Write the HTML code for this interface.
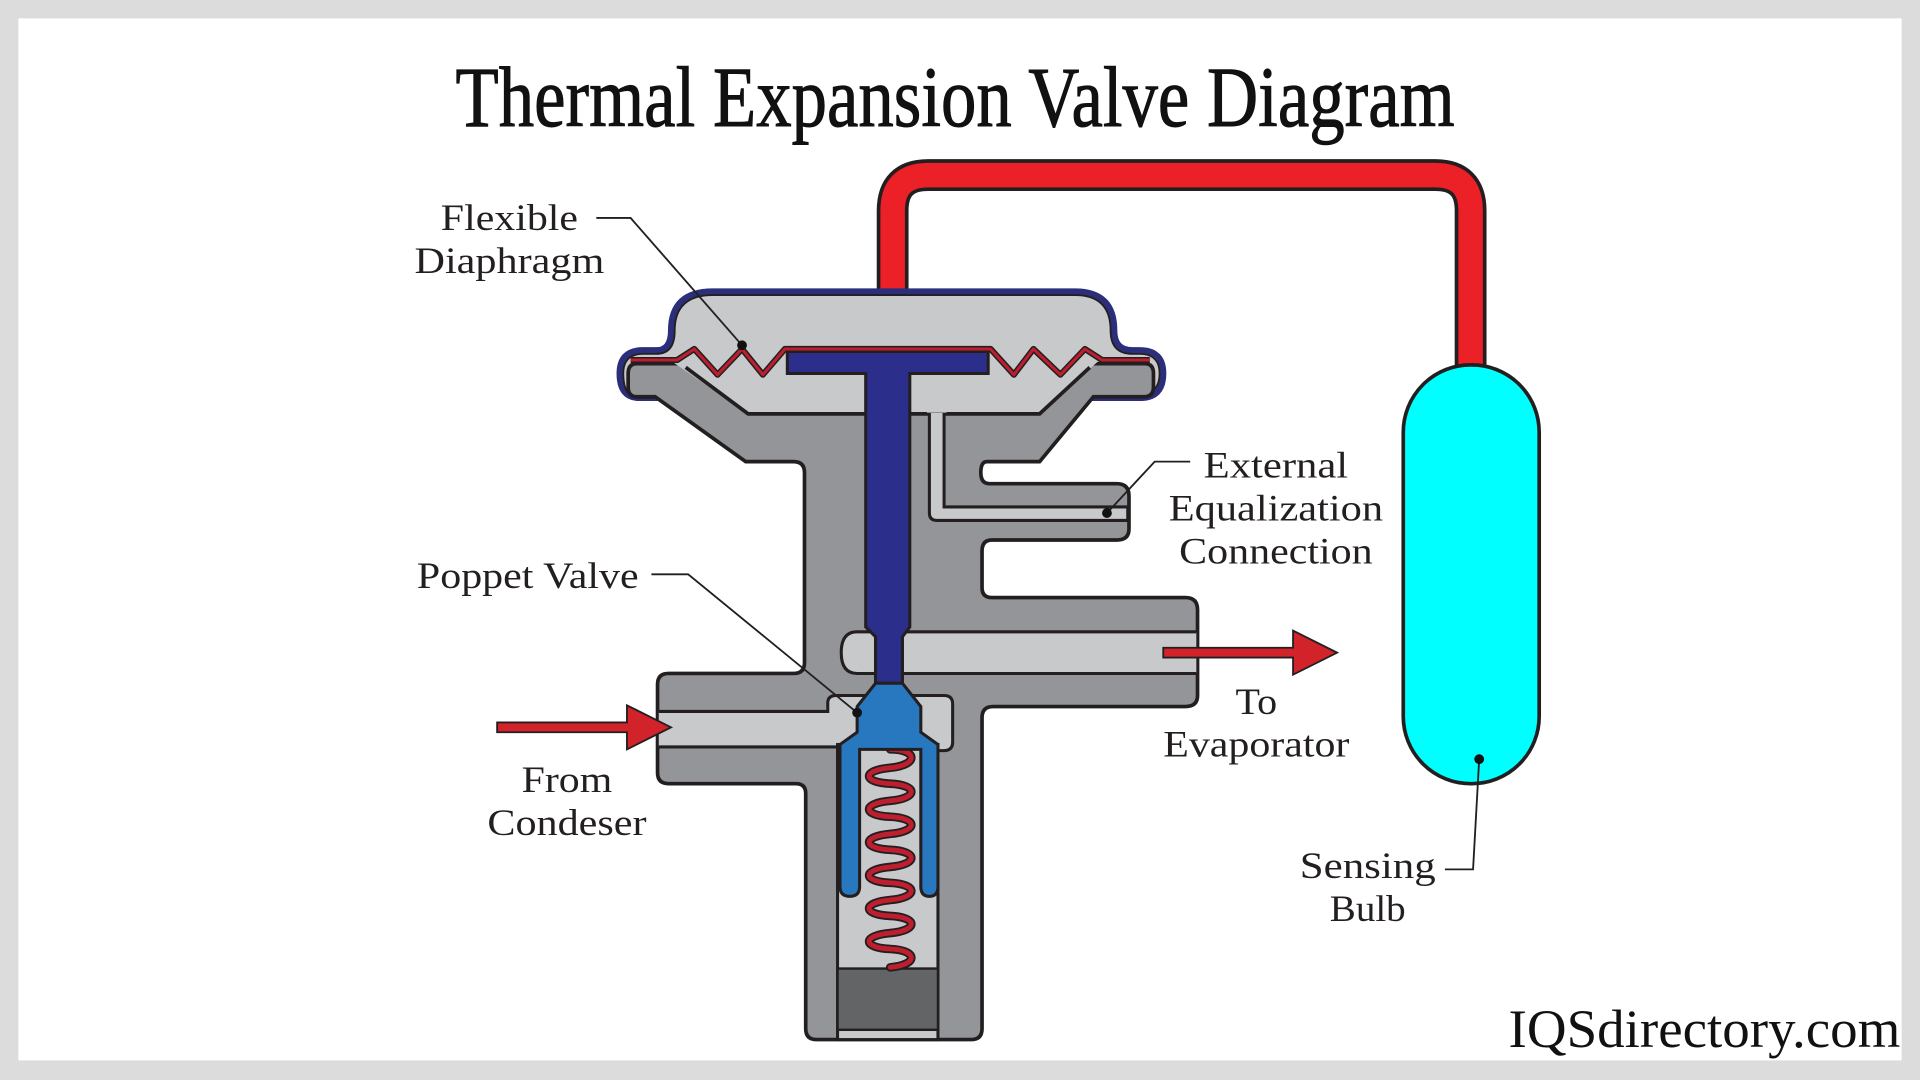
<!DOCTYPE html>
<html><head><meta charset="utf-8"><style>
html,body{margin:0;padding:0;background:#dcdcdc;}
svg{display:block;}
</style></head><body>
<svg width="1920" height="1080" viewBox="0 0 1568 882" xmlns="http://www.w3.org/2000/svg">
<rect x="0" y="0" width="1568" height="882" fill="#dcdcdc"/>
<rect x="15" y="15" width="1538" height="851" fill="#ffffff"/>
<text x="780" y="103" text-anchor="middle" font-family="Liberation Serif, serif" font-size="70" textLength="816" lengthAdjust="spacingAndGlyphs" fill="#111" stroke="#111" stroke-width="0.8">Thermal Expansion Valve Diagram</text>

<!-- red tube -->
<path d="M729,245 L729,172 Q729,143 758,143 L1172,143 Q1201,143 1201,172 L1201,305" fill="none" stroke="#231f20" stroke-width="26"/>
<path d="M729,245 L729,172 Q729,143 758,143 L1172,143 Q1201,143 1201,172 L1201,305" fill="none" stroke="#ec2027" stroke-width="20"/>

<!-- bulb -->
<rect x="1146" y="298" width="111" height="342" rx="55" fill="#00ffff" stroke="#231f20" stroke-width="3"/>

<!-- dome -->
<path d="M522,325 Q506,325 506,305 Q506,286 525,286 L536,286 Q548,286 548,270 Q548,238 582,238 L878,238 Q910,238 910,270 Q910,286 925,286 L931,286 Q950,286 950,305 Q950,325 931,325 Z" fill="#c8c9cb" stroke="#2b2e7a" stroke-width="5"/>
<path d="M522,325 Q509,325 509,305 Q509,289 525,289 L536,289 Q551,289 551,270 Q551,241 582,241 L878,241 Q907,241 907,270 Q907,289 925,289 L931,289 Q947,289 947,305 Q947,322 931,322 Z" fill="none" stroke="#231f20" stroke-width="1.5"/>

<!-- body -->
<path d="M520,297 L935,297 Q942,297 942,305 L942,316 Q942,324 934,324 L893,324 L849,377 L806,377 Q801,377 801,386 Q801,395 808,395 L912,395 Q922,395 922,405 L922,432 Q922,441 912,441 L810,441 Q802,441 802,450 L802,480 Q802,488 810,488 L968,488 Q978,488 978,498 L978,568 Q978,577 968,577 L811,577 Q802,577 802,586 L802,840 Q802,849 793,849 L667,849 Q658,849 658,840 L658,648 Q658,640 650,640 L546,640 Q537,640 537,631 L537,559 Q537,550 546,550 L648,550 Q657,550 657,541 L657,386 Q657,377 648,377 L609,377 L535,324 L520,324 Q513,324 513,316 L513,305 Q513,297 520,297 Z" fill="#939598" stroke="#231f20" stroke-width="3"/>

<!-- chamber -->
<polygon points="547,294 611,338 849,338 898,294" fill="#c8c9cb"/>
<polyline points="560,300 611,338 849,338 890,300" fill="none" stroke="#231f20" stroke-width="3"/>

<!-- equalization channel -->
<path d="M759,336 L759,419 Q759,425 765,425 L921,425 L921,414 L771,414 L771,336 Z" fill="#c8c9cb" stroke="#231f20" stroke-width="2.5"/>
<rect x="757" y="333" width="16" height="4" fill="#c8c9cb"/>

<!-- outlet channel -->
<path d="M977,516 L700,516 Q687,516 687,533 Q687,550 700,550 L977,550" fill="#c8c9cb" stroke="#231f20" stroke-width="2.5"/>
<!-- inlet channel + pocket -->
<path d="M538,581 L676,581 L676,574 Q676,568 683,568 L771,568 Q778,568 778,575 L778,606 Q778,613 771,613 L684,613 L684,610 L538,610" fill="#c8c9cb" stroke="#231f20" stroke-width="2.5"/>
<!-- bore -->
<rect x="684" y="608" width="82" height="241" fill="#c8c9cb" stroke="#231f20" stroke-width="2.5"/>
<rect x="684" y="791" width="82" height="50" fill="#636466" stroke="#231f20" stroke-width="2"/>

<!-- spring -->
<path d="M727,612 C750,612 750,625 727,627 C704,629 704,639 727,640 C750,641 750,652 727,654 C704,656 704,666 727,667 C750,668 750,679 727,681 C704,683 704,693 727,694 C750,695 750,706 727,708 C704,710 704,720 727,721 C750,722 750,733 727,735 C704,737 704,747 727,748 C750,749 750,760 727,762 C704,764 704,774 727,775 C750,776 750,788 727,790" fill="none" stroke="#231f20" stroke-width="7" stroke-linecap="round"/>
<path d="M727,612 C750,612 750,625 727,627 C704,629 704,639 727,640 C750,641 750,652 727,654 C704,656 704,666 727,667 C750,668 750,679 727,681 C704,683 704,693 727,694 C750,695 750,706 727,708 C704,710 704,720 727,721 C750,722 750,733 727,735 C704,737 704,747 727,748 C750,749 750,760 727,762 C704,764 704,774 727,775 C750,776 750,788 727,790" fill="none" stroke="#be1e2d" stroke-width="4" stroke-linecap="round"/>

<!-- stem -->
<path d="M643,287 L807,287 L807,305 L743,305 L743,512 L737,520 L737,558 L715,558 L715,520 L707,512 L707,305 L643,305 Z" fill="#2b2e8a" stroke="#231f20" stroke-width="2.5"/>
<!-- poppet -->
<path d="M715,558 L737,558 L752,577 L752,598 L766,608 L766,724 Q766,732 759,732 Q752,732 752,724 L752,612 L702,612 L702,724 Q702,732 694,732 Q686,732 686,724 L686,608 L700,598 L700,577 Z" fill="#2878c0" stroke="#231f20" stroke-width="2.5"/>

<!-- diaphragm -->
<polyline points="515,294 553,294 567,285 586,306 606,285 623,306 641,285 809,285 828,306 844,285 866,306 886,285 900,294 939,294" fill="none" stroke="#231f20" stroke-width="5" stroke-linejoin="round"/>
<polyline points="515,294 553,294 567,285 586,306 606,285 623,306 641,285 809,285 828,306 844,285 866,306 886,285 900,294 939,294" fill="none" stroke="#be1e2d" stroke-width="2.5" stroke-linejoin="round"/>

<!-- arrows -->
<path d="M406,590 L512,590 L512,576 L548,594 L512,612 L512,598 L406,598 Z" fill="#d2232a" stroke="#231f20" stroke-width="1.5"/>
<path d="M950,529 L1056,529 L1056,515 L1092,533 L1056,551 L1056,537 L950,537 Z" fill="#d2232a" stroke="#231f20" stroke-width="1.5"/>

<!-- leaders -->
<g fill="none" stroke="#231f20" stroke-width="1.5">
<polyline points="487,178 515,178 606,282"/>
<polyline points="972,377 943,377 904,419"/>
<polyline points="532,469 562,469 700,582"/>
<polyline points="1180,710 1203,710 1208,620"/>
</g>
<g fill="#111">
<circle cx="606" cy="282" r="4"/><circle cx="904" cy="419" r="4"/><circle cx="700" cy="582" r="4"/><circle cx="1208" cy="620" r="4"/>
</g>

<!-- labels -->
<g font-family="Liberation Serif, serif" font-size="30" fill="#231f20" text-anchor="middle">
<text x="416" y="188" textLength="112" lengthAdjust="spacingAndGlyphs">Flexible</text>
<text x="416" y="223" textLength="155" lengthAdjust="spacingAndGlyphs">Diaphragm</text>
<text x="1042" y="390" textLength="118" lengthAdjust="spacingAndGlyphs">External</text>
<text x="1042" y="425" textLength="175" lengthAdjust="spacingAndGlyphs">Equalization</text>
<text x="1042" y="460" textLength="158" lengthAdjust="spacingAndGlyphs">Connection</text>
<text x="431" y="480" textLength="181" lengthAdjust="spacingAndGlyphs">Poppet Valve</text>
<text x="463" y="647" textLength="74" lengthAdjust="spacingAndGlyphs">From</text>
<text x="463" y="682" textLength="130" lengthAdjust="spacingAndGlyphs">Condeser</text>
<text x="1026" y="583" textLength="34" lengthAdjust="spacingAndGlyphs">To</text>
<text x="1026" y="618" textLength="152" lengthAdjust="spacingAndGlyphs">Evaporator</text>
<text x="1117" y="717" textLength="111" lengthAdjust="spacingAndGlyphs">Sensing</text>
<text x="1117" y="752" textLength="62" lengthAdjust="spacingAndGlyphs">Bulb</text>
</g>
<text x="1552" y="855" text-anchor="end" font-family="Liberation Serif, serif" font-size="44" textLength="320" lengthAdjust="spacingAndGlyphs" fill="#111">IQSdirectory.com</text>
</svg>
</body></html>
